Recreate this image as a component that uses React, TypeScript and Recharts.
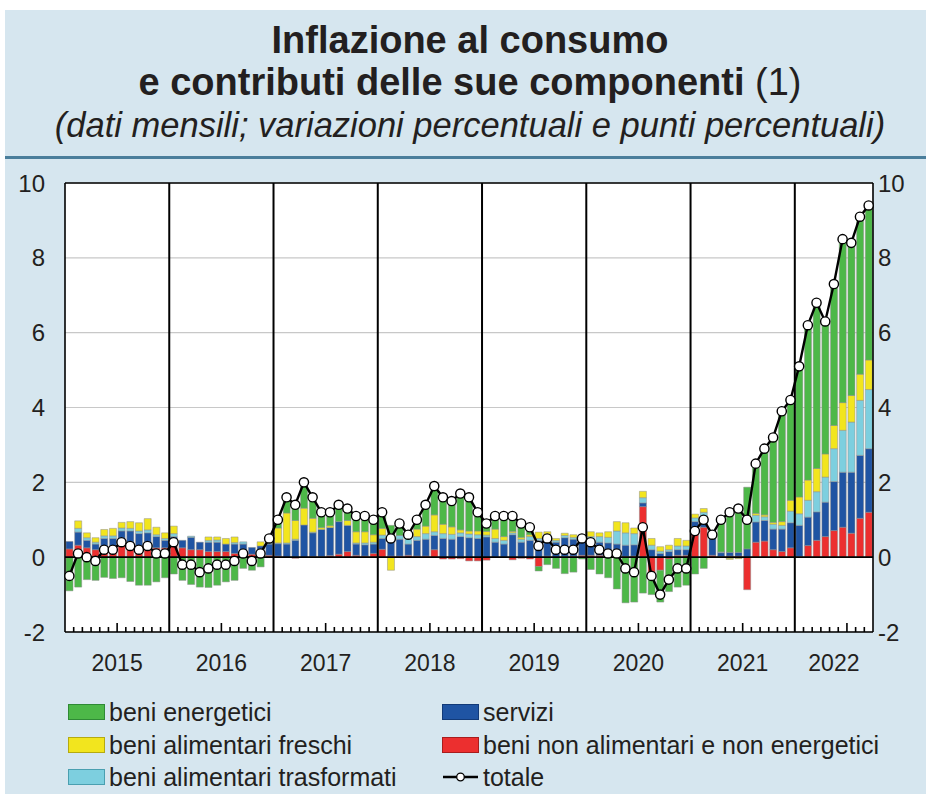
import React from 'react';
import { ComposedChart, Bar, Line, XAxis, YAxis, CartesianGrid, ReferenceLine } from 'recharts';

// mesi: gennaio 2015 - settembre 2022
const anni = [2015, 2016, 2017, 2018, 2019, 2020, 2021, 2022];
const mesiPerAnno = [12, 12, 12, 12, 12, 12, 12, 9];
const yTicks = [-2, 0, 2, 4, 6, 8, 10];

// contributi (punti percentuali)
const energetici = [
  -0.9, -0.8, -0.6, -0.62, -0.54, -0.57, -0.55, -0.65, -0.75, -0.75, -0.66, -0.55,
  -0.45, -0.62, -0.73, -0.8, -0.81, -0.75, -0.66, -0.62, -0.3, -0.35, -0.26, 0.05,
  0.22, 0.42, 0.43, 0.69, 0.56, 0.4, 0.36, 0.45, 0.31, 0.38, 0.42, 0.4,
  0.42, 0.3, 0.32, 0.03, 0.25, 0.57, 0.76, 0.77, 0.74, 1.01, 1.0, 0.6,
  0.3, 0.35, 0.55, 0.48, 0.4, 0.25, -0.12, -0.2, -0.3, -0.44, -0.4, -0.05,
  -0.33, -0.45, -0.55, -0.85, -1.22, -1.2, -0.96, -0.55, -0.85, -0.87, -0.8, -0.75,
  -0.45, -0.3, 0.02, 0.85, 1.13, 1.21, 1.65, 1.33, 1.77, 2.27, 2.95, 2.68,
  3.48, 4.13, 4.49, 3.53, 3.84, 4.36, 4.08, 4.26, 4.15,
];
const freschi = [
  0, 0.2, 0.13, 0.12, 0.17, 0.2, 0.15, 0.18, 0.22, 0.3, 0.2, 0.15,
  0.2, 0, 0, 0, 0.09, 0.08, 0.15, 0.15, 0, 0, 0.11, 0.1,
  0.4, 0.8, 0.5, 0.45, 0.37, 0.05, 0.05, 0, 0.13, 0.3, 0.3, 0.2,
  0.18, -0.35, 0, 0.04, 0.2, 0.2, 0.45, 0.25, 0.2, 0.08, 0.08, 0.1,
  0.1, 0.25, 0.1, 0.04, 0.05, 0.05, 0.17, 0.07, 0.05, 0.06, 0.07, 0.05,
  0.13, 0.1, 0.15, 0.25, 0.27, 0.15, 0.17, 0.18, 0.12, 0.12, 0.2, 0.15,
  0.1, 0.1, 0.03, 0, -0.03, -0.02, 0, 0.05, 0.05, 0.05, 0.1, 0.29,
  0.45, 0.54, 0.62, 0.62, 0.62, 0.74, 0.71, 0.7, 0.79,
];
const trasformati = [
  0, 0.1, 0.07, 0.05, 0.07, 0.07, 0.08, 0.07, 0.07, 0.08, 0.05, 0.05,
  0.08, 0, 0.03, 0, 0.05, 0.06, 0, 0.04, 0.06, 0, 0, 0.03,
  0.02, 0.03, 0.03, 0, 0.02, 0, 0, 0, 0, 0.03, 0.05, 0.05,
  0.09, 0.07, 0.1, 0.18, 0.1, 0.15, 0.1, 0.13, 0.13, 0.1, 0.1, 0.1,
  0.05, 0.1, 0.1, 0.05, 0.08, 0.1, 0.05, 0.08, 0.05, 0.06, 0.05, 0.05,
  0.1, 0.15, 0.15, 0.35, 0.33, 0.3, 0.14, 0.12, 0.06, 0.05, 0.1, 0.1,
  0.1, 0.1, 0.05, 0.02, -0.03, -0.02, 0, 0.18, 0.1, 0.13, 0.1, 0.31,
  0.31, 0.45, 0.54, 0.67, 0.88, 1.12, 1.34, 1.47, 1.58,
];
const servizi = [
  0.2, 0.35, 0.2, 0.15, 0.25, 0.28, 0.3, 0.35, 0.33, 0.3, 0.3, 0.2,
  0.25, 0.2, 0.33, 0.2, 0.25, 0.25, 0.2, 0.25, 0.25, 0.18, 0.22, 0.3,
  0.33, 0.35, 0.45, 0.86, 0.63, 0.72, 0.75, 0.87, 0.7, 0.3, 0.3, 0.25,
  0.29, 0.45, 0.45, 0.3, 0.42, 0.45, 0.38, 0.5, 0.48, 0.55, 0.52, 0.5,
  0.54, 0.4, 0.35, 0.6, 0.4, 0.45, 0.45, 0.5, 0.4, 0.5, 0.45, 0.4,
  0.4, 0.35, 0.35, 0.35, 0.3, 0.3, 0.1, 0.2, 0.1, 0.15, 0.15, 0.15,
  0.2, 0.3, 0.45, 0.1, 0.1, 0.1, 0.22, 0.54, 0.55, 0.55, 0.6, 0.67,
  0.83, 0.76, 0.76, 0.92, 1.31, 1.47, 1.63, 1.68, 1.7,
];
const nonAlimentari = [
  0.22, 0.32, 0.25, 0.2, 0.25, 0.22, 0.4, 0.35, 0.3, 0.35, 0.25, 0.25,
  0.3, 0.25, 0.2, 0.2, 0.15, 0.15, 0.15, 0.1, 0.1, 0.08, 0.08, 0.05,
  0.03, 0, -0.03, 0, 0.02, 0.02, 0.04, 0.08, 0.15, 0.05, 0.03, 0.1,
  0.21, 0.03, 0.03, 0.05, 0.03, 0.03, 0.2, -0.05, -0.05, -0.04, -0.1, -0.1,
  -0.08, 0, 0, -0.07, -0.03, -0.05, -0.25, 0.03, 0, 0.02, 0.03, 0.05,
  0.05, 0.05, 0.03, 0, 0.02, 0.03, 1.35, -0.45, -0.35, -0.05, 0.05, 0.05,
  0.75, 0.8, 0.05, 0.02, 0.03, 0.03, -0.87, 0.4, 0.43, 0.2, 0.15, 0.25,
  0.02, 0.31, 0.45, 0.55, 0.71, 0.8, 0.64, 1.04, 1.2,
];
// inflazione al consumo (variazione percentuale sui 12 mesi)
const totale = [
  -0.5, 0.1, 0.0, -0.1, 0.2, 0.2, 0.4, 0.3, 0.2, 0.3, 0.1, 0.1,
  0.4, -0.2, -0.2, -0.4, -0.3, -0.2, -0.2, -0.1, 0.1, -0.1, 0.1, 0.5,
  1.0, 1.6, 1.4, 2.0, 1.6, 1.2, 1.2, 1.4, 1.3, 1.1, 1.1, 1.0,
  1.2, 0.5, 0.9, 0.6, 1.0, 1.4, 1.9, 1.6, 1.5, 1.7, 1.6, 1.2,
  0.9, 1.1, 1.1, 1.1, 0.9, 0.8, 0.3, 0.5, 0.2, 0.2, 0.2, 0.5,
  0.4, 0.2, 0.1, 0.1, -0.3, -0.4, 0.8, -0.5, -1.0, -0.6, -0.3, -0.3,
  0.7, 1.0, 0.6, 1.0, 1.2, 1.3, 1.0, 2.5, 2.9, 3.2, 3.9, 4.2,
  5.1, 6.2, 6.8, 6.3, 7.3, 8.5, 8.4, 9.1, 9.4,
];

const mesi: string[] = [];
anni.forEach((a, i) => {
  for (let m = 1; m <= mesiPerAnno[i]; m++) mesi.push(`${a}-${String(m).padStart(2, '0')}`);
});

const data = mesi.map((mese, i) => ({
  mese,
  nonAlimentari: nonAlimentari[i],
  servizi: servizi[i],
  trasformati: trasformati[i],
  freschi: freschi[i],
  energetici: energetici[i],
  totale: totale[i],
}));

const COL = {
  energetici: '#4db848',
  freschi: '#f2e51e',
  trasformati: '#7dcfdf',
  servizi: '#1f54a3',
  nonAlimentari: '#ec2f2f',
};

const FONT = '"Liberation Sans", Arial, Helvetica, sans-serif';
const TXT = '#231f20';

const MonthTick = (props: any) => {
  const { x, y, payload } = props;
  const [a, m] = String(payload.value).split('-').map(Number);
  const half = payload.offset ?? 4.35;
  const n = mesiPerAnno[anni.indexOf(a)];
  const labelMonth = Math.floor(n / 2) + 1;
  const lx = n % 2 === 0 ? x - half : x;
  return (
    <g>
      {m > 1 && (
        <line x1={x - half} x2={x - half} y1={y} y2={y - (m === 7 ? 9 : 5)} stroke="#000" strokeWidth={1.6} />
      )}
      {m === labelMonth && (
        <text x={lx} y={y + 39} textAnchor="middle" fontSize={23} fill={TXT} fontFamily={FONT}>
          {a}
        </text>
      )}
    </g>
  );
};

const Swatch = ({ color, border }: { color: string; border: string }) => (
  <div style={{ width: 37, height: 16, background: color, border: `1px solid ${border}`, boxSizing: 'border-box' }} />
);

const LegendItem = ({ left, top, label, children }: { left: number; top: number; label: string; children: React.ReactNode }) => (
  <div style={{ position: 'absolute', left, top, display: 'flex', alignItems: 'center', height: 30 }}>
    {children}
    <span style={{ marginLeft: 4, fontSize: 25, color: TXT, fontFamily: FONT, whiteSpace: 'nowrap' }}>{label}</span>
  </div>
);

export default function App() {
  return (
    <div style={{ position: 'absolute', left: 0, top: 0, width: 926, height: 794, background: '#fff', overflow: 'hidden' }}>
      <div style={{ position: 'absolute', left: 5, top: 10, width: 921, height: 784, background: '#d6e6ef' }} />
      <div style={{ position: 'absolute', left: 10, top: 19, width: 920, textAlign: 'center', fontFamily: FONT, color: TXT }}>
        <div style={{ fontSize: 38, fontWeight: 'bold', lineHeight: '42px' }}>Inflazione al consumo</div>
        <div style={{ fontSize: 38, fontWeight: 'bold', lineHeight: '42px' }}>
          e contributi delle sue componenti <span style={{ fontWeight: 'normal' }}>(1)</span>
        </div>
        <div style={{ fontSize: 34.5, fontStyle: 'italic', lineHeight: '44px' }}>
          (dati mensili; variazioni percentuali e punti percentuali)
        </div>
      </div>
      <div style={{ position: 'absolute', left: 5, top: 156, width: 921, height: 3, background: '#4a7e9b' }} />

      <div style={{ position: 'absolute', left: 0, top: 0 }}>
        <ComposedChart
          width={926}
          height={700}
          data={data}
          stackOffset="sign"
          barCategoryGap={1}
          margin={{ top: 183, right: 0, bottom: 0, left: 0 }}
        >
          <CartesianGrid yAxisId="l" vertical={false} stroke="#c8c8c8" strokeWidth={1.2} fill="#ffffff" />
          <XAxis
            dataKey="mese"
            height={68}
            interval={0}
            tickSize={0}
            tickMargin={0}
            tick={<MonthTick />}
            axisLine={{ stroke: '#000', strokeWidth: 1.6 }}
          />
          <YAxis
            yAxisId="l"
            width={65}
            domain={[-2, 10]}
            ticks={yTicks}
            allowDataOverflow
            tickSize={0}
            tickMargin={20}
            tick={{ fontSize: 24, fill: TXT, fontFamily: FONT }}
            axisLine={{ stroke: '#000', strokeWidth: 1.6 }}
          />
          <YAxis
            yAxisId="r"
            orientation="right"
            width={53}
            domain={[-2, 10]}
            ticks={yTicks}
            allowDataOverflow
            tickSize={0}
            tickMargin={5}
            tick={{ fontSize: 24, fill: TXT, fontFamily: FONT, textAnchor: 'start' }}
            axisLine={{ stroke: '#000', strokeWidth: 1.6 }}
          />
          <Bar yAxisId="l" dataKey="nonAlimentari" stackId="c" fill={COL.nonAlimentari} stroke="#8c8c8c" strokeWidth={0.5} isAnimationActive={false} />
          <Bar yAxisId="l" dataKey="servizi" stackId="c" fill={COL.servizi} stroke="#8c8c8c" strokeWidth={0.5} isAnimationActive={false} />
          <Bar yAxisId="l" dataKey="trasformati" stackId="c" fill={COL.trasformati} stroke="#8c8c8c" strokeWidth={0.5} isAnimationActive={false} />
          <Bar yAxisId="l" dataKey="freschi" stackId="c" fill={COL.freschi} stroke="#8c8c8c" strokeWidth={0.5} isAnimationActive={false} />
          <Bar yAxisId="l" dataKey="energetici" stackId="c" fill={COL.energetici} stroke="#8c8c8c" strokeWidth={0.5} isAnimationActive={false} />
          <ReferenceLine yAxisId="l" y={0} stroke="#000" strokeWidth={1.6} />
          <ReferenceLine yAxisId="l" y={10} stroke="#000" strokeWidth={1.6} />
          {anni.slice(1).map((a) => (
            <ReferenceLine key={a} yAxisId="l" x={`${a}-01`} position="start" stroke="#000" strokeWidth={2} />
          ))}
          <Line
            yAxisId="l"
            dataKey="totale"
            type="linear"
            stroke="#000"
            strokeWidth={2.4}
            dot={{ r: 4.6, fill: '#fff', stroke: '#000', strokeWidth: 1.4 }}
            isAnimationActive={false}
          />
        </ComposedChart>
      </div>

      <LegendItem left={68} top={697} label="beni energetici">
        <Swatch color={COL.energetici} border="#2f8a35" />
      </LegendItem>
      <LegendItem left={68} top={730} label="beni alimentari freschi">
        <Swatch color={COL.freschi} border="#b5aa10" />
      </LegendItem>
      <LegendItem left={68} top={762} label="beni alimentari trasformati">
        <Swatch color={COL.trasformati} border="#4a9fb0" />
      </LegendItem>
      <LegendItem left={442} top={697} label="servizi">
        <Swatch color={COL.servizi} border="#123a78" />
      </LegendItem>
      <LegendItem left={442} top={730} label="beni non alimentari e non energetici">
        <Swatch color={COL.nonAlimentari} border="#a81d1d" />
      </LegendItem>
      <LegendItem left={442} top={762} label="totale">
        <svg width={37} height={16}>
          <line x1={1} x2={36} y1={8} y2={8} stroke="#000" strokeWidth={2.4} />
          <circle cx={18.5} cy={8} r={3.8} fill="#fff" stroke="#000" strokeWidth={1.3} />
        </svg>
      </LegendItem>
    </div>
  );
}
